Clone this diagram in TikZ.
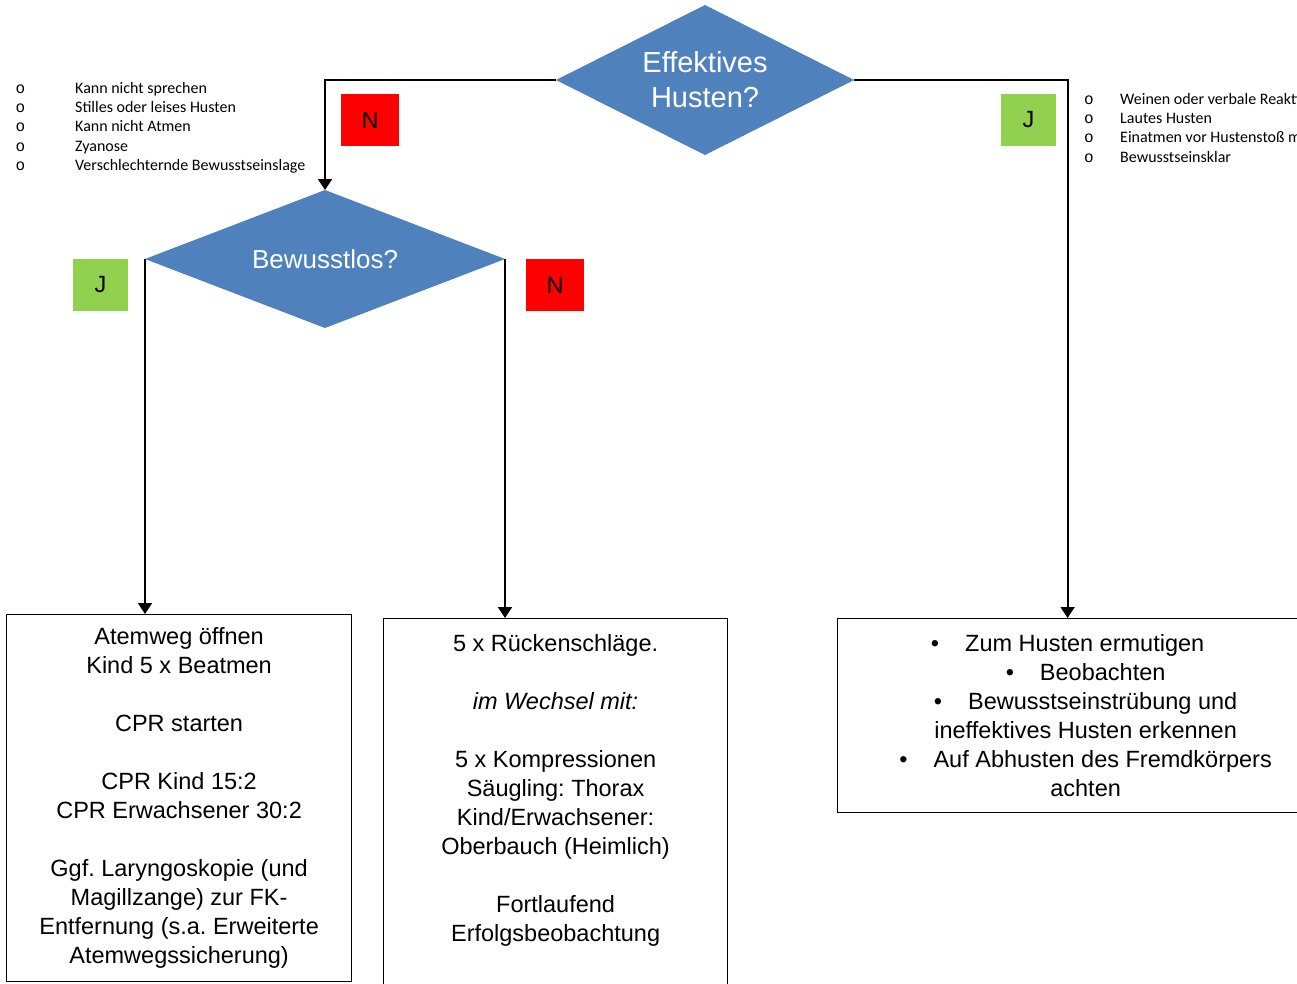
\documentclass[tikz,border=0pt]{standalone}
\usepackage{fontspec}
\setmainfont{Liberation Sans}
\newfontfamily\calibri{Carlito}
\newfontfamily\kuller{Liberation Mono}
\usepackage{xcolor}
\usetikzlibrary{shapes.geometric}
\usetikzlibrary{arrows.meta}
\usetikzlibrary{positioning}
\definecolor{flussblau}{HTML}{4F81BD}
\definecolor{neinrot}{HTML}{FF0000}
\definecolor{jagruen}{HTML}{92D050}
\def\punkt{\makebox[59.5pt][l]{\kuller o}}
\def\punktr{\makebox[36pt][l]{\kuller o}}
\frenchspacing

\tikzset{
	raute/.style={diamond, fill=flussblau, text=white, inner sep=0pt, outer sep=0pt, align=center},
	kasten/.style={draw=black, line width=1.2pt, inner sep=0pt, align=center,
		font=\fontsize{23.5}{29}\selectfont},
	pfeil/.style={line width=2pt, -{Triangle[width=14pt,length=11pt]}},
	antwort/.style={minimum height=52pt, inner sep=0pt, font=\fontsize{23.5}{28}\selectfont},
	liste/.style={anchor=north west, inner sep=0pt, align=left,
		font=\calibri\fontsize{16}{19.3}\selectfont}
}

\begin{document}
\begin{tikzpicture}[x=1pt,y=-1pt]
		\path[use as bounding box, clip] (0,0) rectangle (1297,983);
		
		% Entscheidungen
		\node[raute, aspect=1.99, minimum width=298pt, minimum height=150pt,
			font=\fontsize{29}{35}\selectfont] (effektiv) at (705,80) {Effektives\\Husten?};
		\node[raute, aspect=2.61, minimum width=360pt, minimum height=138pt,
			font=\fontsize{26}{31}\selectfont] (bewusstlos) at (325,259) {Bewusstlos?};
		
		% Massnahmen
		\node[kasten, minimum width=345pt, minimum height=367pt, anchor=north west] (beatmen) at (6,614) {%
			Atemweg öffnen\\Kind 5 x Beatmen\\[29pt]
			CPR starten\\[29pt]
			CPR Kind 15:2\\CPR Erwachsener 30:2\\[29pt]
			Ggf. Laryngoskopie (und\\Magillzange) zur FK-\\Entfernung (s.a. Erweiterte\\Atemwegssicherung)};
		\node[kasten, minimum width=344pt, minimum height=396pt, anchor=north west] (kompression) at (383,618) {%
			5 x Rückenschläge.\\[29pt]
			\textit{im Wechsel mit:}\\[29pt]
			5 x Kompressionen\\Säugling: Thorax\\Kind/Erwachsener:\\Oberbauch (Heimlich)\\[29pt]
			Fortlaufend\\Erfolgsbeobachtung\\[29pt]\mbox{}};
		\node[kasten, minimum width=496pt, minimum height=194pt, anchor=north west] (husten) at (837,618) {%
			\textbullet\hspace{26pt}Zum Husten ermutigen\hspace*{36pt}\\
			\textbullet\hspace{26pt}Beobachten\hspace*{36pt}\\
			\textbullet\hspace{26pt}Bewusstseinstrübung und\hspace*{36pt}\\
			ineffektives Husten erkennen\\
			\textbullet\hspace{26pt}Auf Abhusten des Fremdkörpers\hspace*{36pt}\\
			achten};
		
		% Verbindungen
		\draw[pfeil] (effektiv.west) -| (bewusstlos.north);
		\draw[pfeil] (effektiv.east) -| ([xshift=-18pt]husten.north);
		\draw[pfeil] (bewusstlos.west) -- (bewusstlos.west |- beatmen.north);
		\draw[pfeil] (bewusstlos.east) -- (bewusstlos.east |- kompression.north);
		
		% Ja / Nein
		\node[antwort, fill=neinrot, minimum width=58pt] (nein1) at (370,120) {N};
		\node[antwort, fill=jagruen, minimum width=55pt] (ja1) at (1028.5,120) {J};
		\node[antwort, fill=jagruen, minimum width=55pt] (ja2) at (100.5,285) {J};
		\node[antwort, fill=neinrot, minimum width=58pt] (nein2) at (555,285) {N};
		
		% Zeichen
		\node[liste] (nichteffektiv) at (15.5,82) {%
			\punkt Kann nicht sprechen\\
			\punkt Stilles oder leises Husten\\
			\punkt Kann nicht Atmen\\
			\punkt Zyanose\\
			\punkt Verschlechternde Bewusstseinslage};
		\node[liste] (effektivzeichen) at (1084,93) {%
			\punktr Weinen oder verbale Reaktion\\
			\punktr Lautes Husten\\
			\punktr Einatmen vor Hustenstoß möglich\\
			\punktr Bewusstseinsklar};
	\end{tikzpicture}
\end{document}
